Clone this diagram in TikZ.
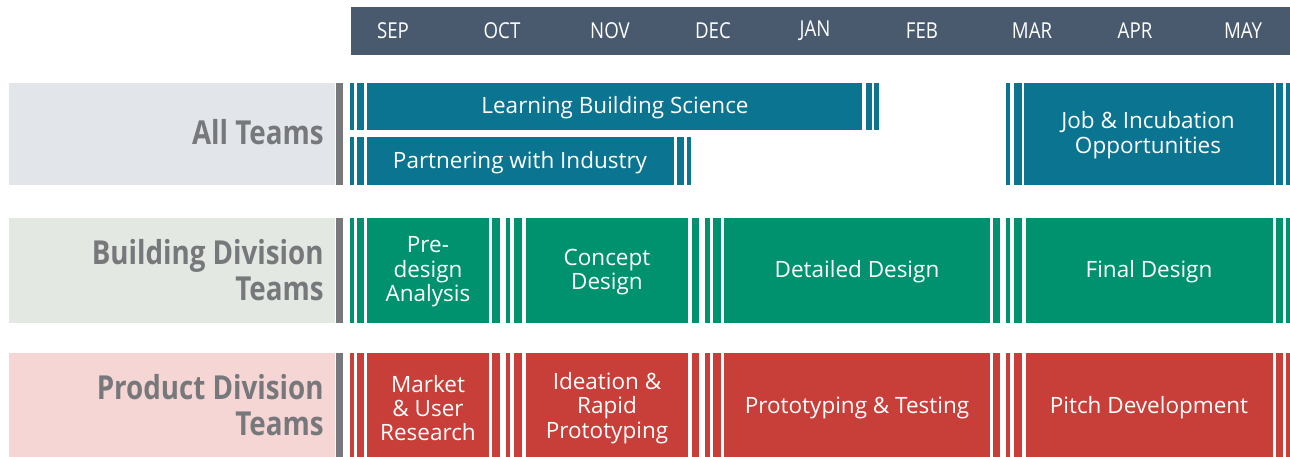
\documentclass[tikz,border=0pt]{standalone}
\usepackage{fontspec}
\setmainfont{Open Sans}
\newfontfamily\monthfont[FakeStretch=0.85]{Open Sans}
\newfontfamily\teamfont[FakeStretch=0.84]{Open Sans}
\definecolor{headblue}{HTML}{4A5A6E}
\definecolor{allbg}{HTML}{E2E6EA}
\definecolor{bldbg}{HTML}{E3E8E3}
\definecolor{prodbg}{HTML}{F5D6D4}
\definecolor{divgray}{HTML}{77787B}
\definecolor{allteal}{HTML}{0B7491}
\definecolor{bldgreen}{HTML}{00926E}
\definecolor{prodred}{HTML}{C83F39}
\begin{document}
\begin{tikzpicture}[x=0.02cm,y=-0.02cm,
		month/.style={text=white,font=\monthfont\fontsize{12.5}{14}\selectfont},
		team/.style={text=divgray,font=\teamfont\bfseries\fontsize{18.8}{20.4}\selectfont,align=right,anchor=east,inner sep=0pt},
		task/.style={text=white,font=\fontsize{12.8}{13.9}\selectfont,align=center,inner sep=0pt}]
		\useasboundingbox (0,0) rectangle (1290,456);
		\clip (0,0) rectangle (1290,456);
		% months
		\fill[headblue] (351,7) rectangle (1290,55);
		\foreach \m/\x in {SEP/393,OCT/502,NOV/610,DEC/713,JAN/815,FEB/922,MAR/1032,APR/1135,MAY/1243}
			\node[month] (m-\m) at (\x,31) {\m};
		% team labels
		\fill[allbg] (9,83) rectangle (335,185);
		\fill[bldbg] (9,218) rectangle (335,323);
		\fill[prodbg] (9,353) rectangle (335,460);
		\foreach \t/\b in {83/185,218/323,353/460}
			\fill[divgray] (336,\t) rectangle (343,\b);
		\node[team] (all) at (324,132) {All Teams};
		\node[team] (bld) at (324,270) {Building Division\\Teams};
		\node[team] (prod) at (324,405) {Product Division\\Teams};
		% all teams
		\fill[allteal] (367,83) rectangle (862,130);
		\foreach \a/\b in {350/354,357/364,866/872,874/879}
			\fill[allteal] (\a,83) rectangle (\b,130);
		\node[task] (learn) at (615,108) {Learning Building Science};
		\fill[allteal] (367,137) rectangle (674,185);
		\foreach \a/\b in {350/354,357/364,677/684,687/691}
			\fill[allteal] (\a,137) rectangle (\b,185);
		\node[task] (partner) at (520,163) {Partnering with Industry};
		\fill[allteal] (1024,83) rectangle (1274,185);
		\foreach \a/\b in {1006/1010,1014/1022,1276/1283,1286/1292}
			\fill[allteal] (\a,83) rectangle (\b,185);
		\node[task] (job) at (1148,135) {Job \& Incubation\\Opportunities};
		% division rows
		\foreach \c/\t/\b in {bldgreen/218/323,prodred/353/460}{
			\foreach \a/\e in {350/354,357/364,367/489,492/500,506/510,514/522,526/688,692/699,705/710,713/721,724/990,993/1000,1006/1010,1014/1022,1026/1273,1276/1283,1286/1292}
				\fill[\c] (\a,\t) rectangle (\e,\b);
		}
		\node[task] (pre) at (428,272) {Pre-\\design\\Analysis};
		\node[task] (concept) at (607,272) {Concept\\Design};
		\node[task] (detail) at (857,272) {Detailed Design};
		\node[task] (final) at (1149,272) {Final Design};
		\node[task] (market) at (428,408) {Market\\\& User\\Research};
		\node[task] (ideation) at (607,408) {Ideation \&\\Rapid\\Prototyping};
		\node[task] (proto) at (857,408) {Prototyping \& Testing};
		\node[task] (pitch) at (1149,408) {Pitch Development};
	\end{tikzpicture}
\end{document}
